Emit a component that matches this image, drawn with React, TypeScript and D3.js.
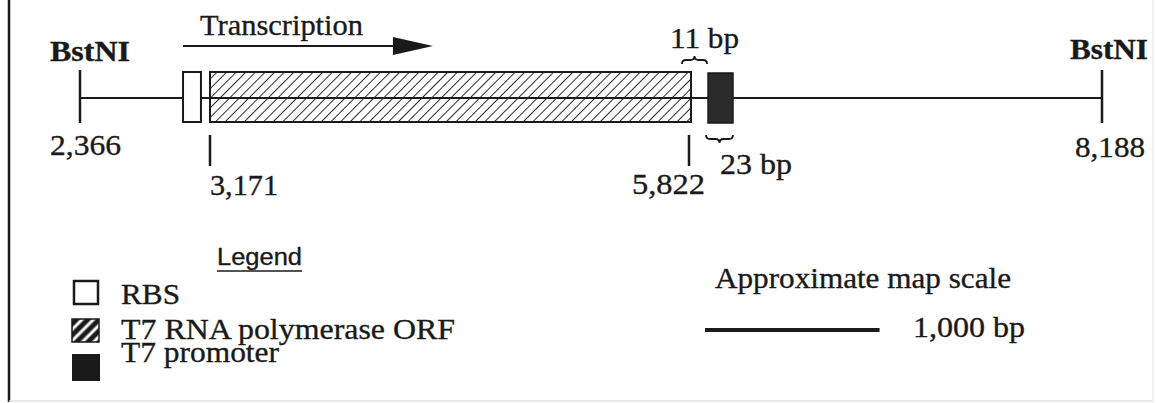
import React from 'react';
import * as d3 from 'd3';

// map coordinates (bp)
const siteNames = ['BstNI', 'BstNI'];
const sitePositions = [2366, 8188];
const orfBounds = [3171, 5822];
const rbsBounds = [3004, 3115];
const promoterBounds = [5931, 6074];
const transcriptionSpan = [3004, 4405];
const gapLabels = ['11 bp', '23 bp'];
const legendLabels = ['RBS', 'T7 RNA polymerase ORF', 'T7 promoter'];
const scaleBarBp = 1000;
const scaleBarLabel = '1,000 bp';

const W = 1156;
const H = 403;
const lineY = 98;
const ink = '#1a1a1a';
const serif = '"Liberation Serif", "Times New Roman", serif';

const fmt = d3.format(',');

// the original figure is not drawn to scale: piecewise linear between labelled positions
const x = d3
  .scaleLinear()
  .domain([sitePositions[0], orfBounds[0], orfBounds[1], sitePositions[1]])
  .range([80, 210, 689, 1102]);

const T = ({ x, y, w, size = 30, bold = false, anchor = 'start', font = serif, children }: any) => (
  <text
    x={x}
    y={y}
    fontFamily={font}
    fontSize={size}
    fontWeight={bold ? 'bold' : 'normal'}
    textAnchor={anchor}
    fill={ink}
    stroke={ink}
    strokeWidth={0.35}
    textLength={w}
    lengthAdjust="spacingAndGlyphs"
  >
    {children}
  </text>
);

// horizontal curly brace, nub pointing up (dir=-1) or down (dir=1)
const brace = (x0: number, x1: number, y: number, dir: number) => {
  const xm = (x0 + x1) / 2;
  const r = 4;
  const yb = y - dir * 4;
  const yt = y + dir * 4;
  return `M${x0},${yb} Q${x0},${y} ${x0 + r},${y} L${xm - r},${y} Q${xm},${y} ${xm},${yt} Q${xm},${y} ${xm + r},${y} L${x1 - r},${y} Q${x1},${y} ${x1},${yb}`;
};

export default function App() {
  const [s0, s1] = sitePositions.map(x);
  const orf = orfBounds.map(x);
  const rbs = rbsBounds.map(x);
  const prom = promoterBounds.map(x);
  const arr = transcriptionSpan.map(x);
  const barX = 705;
  const barW = x(orfBounds[1] + scaleBarBp) - x(orfBounds[1]);

  return (
    <svg width={W} height={H} style={{ position: 'absolute', left: 0, top: 0, background: '#fff' }}>
      <defs>
        <pattern id="hatch" patternUnits="userSpaceOnUse" width={6.8} height={6.8} patternTransform="rotate(45)">
          <line x1={0} y1={0} x2={0} y2={6.8} stroke={ink} strokeWidth={1.8} />
        </pattern>
        <pattern id="hatchKey" patternUnits="userSpaceOnUse" width={8} height={8} patternTransform="rotate(45)">
          <rect width={8} height={8} fill={ink} />
          <line x1={4} y1={0} x2={4} y2={8} stroke="#fff" strokeWidth={3} />
        </pattern>
      </defs>

      {/* frame */}
      <line x1={9} y1={0} x2={9} y2={402} stroke={ink} strokeWidth={2.5} />
      <line x1={9} y1={401} x2={1153} y2={401} stroke="#e2e2e2" strokeWidth={1.5} />
      <line x1={1153} y1={0} x2={1153} y2={401} stroke="#ececec" strokeWidth={1.5} />

      {/* backbone */}
      <line x1={s0} y1={lineY} x2={s1} y2={lineY} stroke={ink} strokeWidth={2} />
      {[s0, s1].map((sx, i) => (
        <line key={i} x1={sx} y1={70} x2={sx} y2={123} stroke={ink} strokeWidth={2.5} />
      ))}

      {/* features */}
      <rect x={rbs[0]} y={72} width={rbs[1] - rbs[0]} height={50} fill="#fff" stroke={ink} strokeWidth={2} />
      <rect x={orf[0]} y={72} width={orf[1] - orf[0] + 2} height={50} fill="url(#hatch)" stroke={ink} strokeWidth={2} />
      <rect x={prom[0]} y={73} width={prom[1] - prom[0]} height={50} fill="#2b2b2b" stroke={ink} strokeWidth={1.5} />

      {/* ORF boundary ticks */}
      {orf.map((ox, i) => (
        <line key={i} x1={ox} y1={135} x2={ox} y2={166} stroke={ink} strokeWidth={2.5} />
      ))}

      {/* transcription arrow */}
      <line x1={arr[0]} y1={46} x2={arr[1] - 38} y2={46} stroke={ink} strokeWidth={2} />
      <path d={`M${arr[1] - 40},37 L${arr[1]},46 L${arr[1] - 40},55 Z`} fill={ink} />
      <T x={200} y={35} w={163}>Transcription</T>

      {/* site labels */}
      <T x={50} y={61} w={80} size={29} bold>{siteNames[0]}</T>
      <T x={1148} y={59} w={78} size={29} bold anchor="end">{siteNames[1]}</T>
      <T x={50} y={155} w={71}>{fmt(sitePositions[0])}</T>
      <T x={1145} y={157} w={70} anchor="end">{fmt(sitePositions[1])}</T>
      <T x={210} y={195} w={68}>{fmt(orfBounds[0])}</T>
      <T x={705} y={194} w={73} anchor="end">{fmt(orfBounds[1])}</T>

      {/* gap / size braces */}
      <path d={brace(orf[1] - 7, prom[0] - 1, 60, -1)} fill="none" stroke={ink} strokeWidth={1.8} />
      <T x={670} y={48} w={69}>{gapLabels[0]}</T>
      <path d={brace(prom[0] - 2, prom[1], 139, 1)} fill="none" stroke={ink} strokeWidth={1.8} />
      <T x={720} y={174} w={72}>{gapLabels[1]}</T>

      {/* legend */}
      <T x={217} y={265} w={85} size={23} font='"Liberation Sans", Arial, sans-serif'>Legend</T>
      <line x1={217} y1={271} x2={302} y2={271} stroke={ink} strokeWidth={1.5} />
      <rect x={74} y={281} width={24} height={23} fill="#fff" stroke={ink} strokeWidth={2.5} />
      <rect x={72} y={319} width={27} height={23} fill="url(#hatchKey)" stroke={ink} strokeWidth={1.5} />
      <rect x={72} y={354} width={28} height={27} fill={ink} />
      <T x={121} y={304} w={59}>{legendLabels[0]}</T>
      <T x={121} y={339} w={334}>{legendLabels[1]}</T>
      <T x={121} y={362} w={158}>{legendLabels[2]}</T>

      {/* scale bar */}
      <T x={715} y={288} w={296}>Approximate map scale</T>
      <line x1={barX} y1={330} x2={barX + barW} y2={330} stroke={ink} strokeWidth={4} />
      <T x={913} y={337} w={112}>{scaleBarLabel}</T>
    </svg>
  );
}
